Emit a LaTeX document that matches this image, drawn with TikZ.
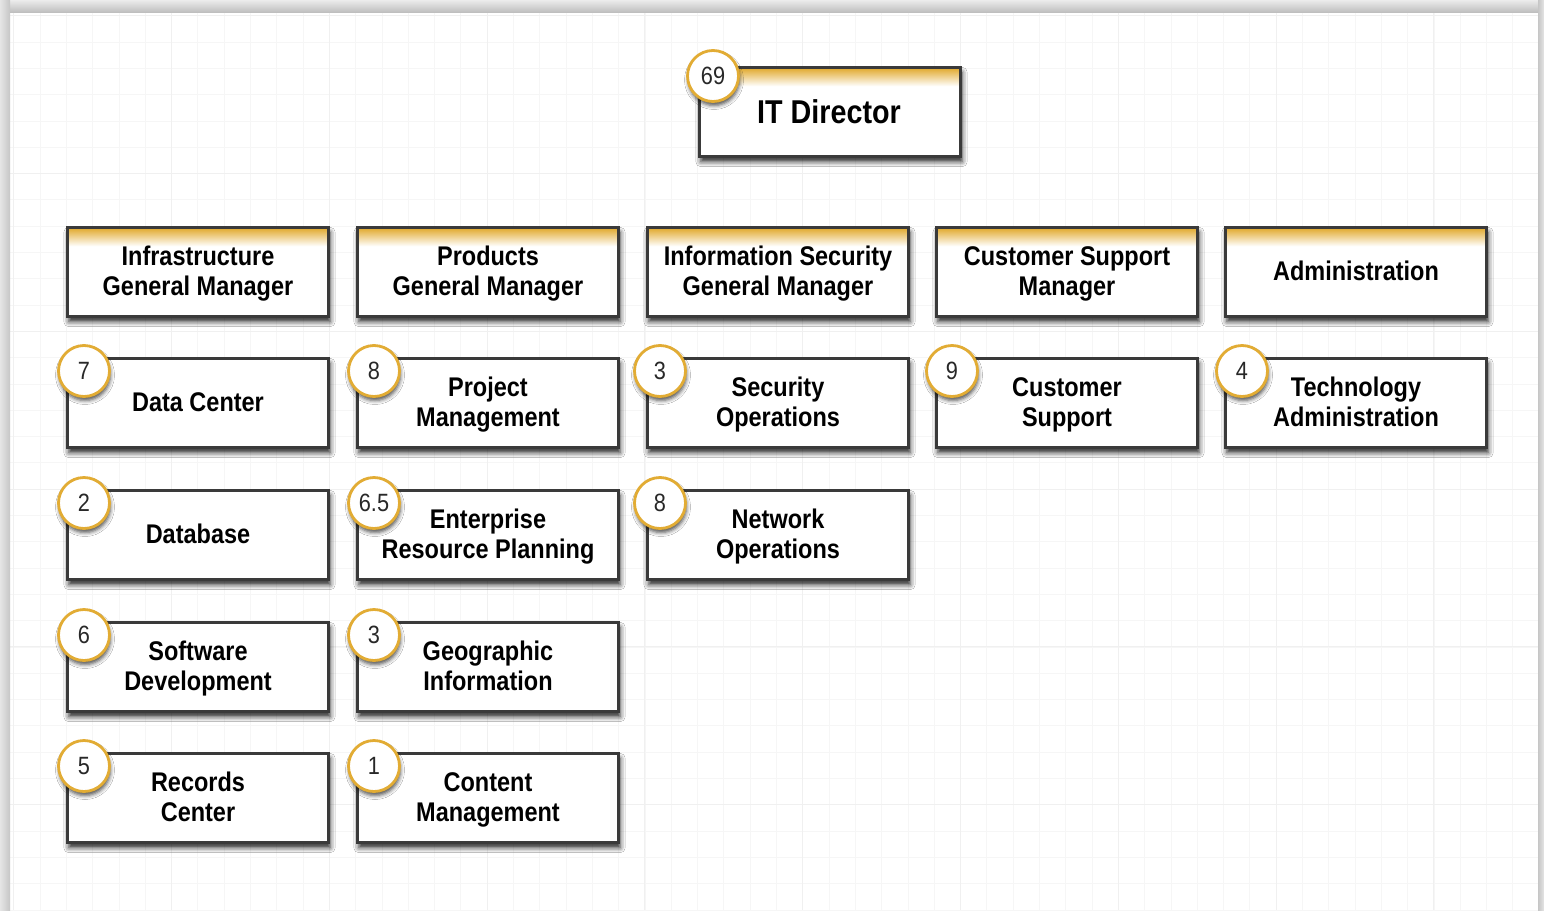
\documentclass[tikz,border=0pt]{standalone}
\usepackage{fontspec}
\setmainfont{Liberation Sans}[FakeStretch=0.87]
\usetikzlibrary{shadows.blur}
\definecolor{gold}{RGB}{226,172,52}
\definecolor{boxline}{RGB}{58,58,58}
\definecolor{numtxt}{RGB}{40,40,40}
\newcommand{\tline}[1]{\rule[-2.6pt]{0pt}{22pt}\smash{#1}}
\tikzset{
  unitbox/.style={draw=boxline, line width=2.6pt, fill=white, minimum width=261.4pt, minimum height=89.4pt,
    anchor=north west, inner sep=0pt, outer sep=0pt,
    blur shadow={shadow xshift=1.5pt, shadow yshift=-5pt, shadow blur radius=5pt, shadow opacity=85}},
  unittext/.style={align=center, inner sep=0pt, anchor=center,
    font=\fontsize{27}{29.5}\selectfont\bfseries},
  badge/.style={circle, draw=gold, line width=2.8pt, fill=white, minimum size=51pt, inner sep=0pt,
    font=\fontsize{25}{25}\selectfont, text=numtxt,
    blur shadow={shadow xshift=1pt, shadow yshift=-4pt, shadow blur radius=4pt, shadow opacity=70}},
}
% name, x, y, text
\newcommand{\unit}[4]{%
  \node[unitbox] (#1) at (#2+1.3,#3+1.3) {};
  \node[unittext] (#1-t) at (#1.center) {#4};
}
\newcommand{\hunit}[4]{%
  \node[unitbox] (#1) at (#2+1.3,#3+1.3) {};
  \shade[top color=gold, middle color=gold!60, bottom color=white] ([xshift=1.3pt,yshift=-1.3pt]#1.north west) rectangle ([xshift=-1.3pt,yshift=-19pt]#1.north east);
  \draw[boxline, line width=2.6pt] (#1.north west) rectangle (#1.south east);
  \node[unittext] (#1-t) at (#1.center) {#4};
}
\begin{document}
\begin{tikzpicture}[x=1pt,y=-1pt]
\useasboundingbox (0,0) rectangle (1544,910);
\fill[white] (0,0) rectangle (1544,910);
% grid
\foreach \i in {0,...,58} {
  \pgfmathsetmacro{\xx}{13.7+26.3*\i}
  \draw[gray!7, line width=0.8pt] (\xx,0) -- (\xx,910);
}
\foreach \i in {0,...,35} {
  \pgfmathsetmacro{\yy}{15.7+26.3*\i}
  \draw[gray!7, line width=0.8pt] (0,\yy) -- (1544,\yy);
}
\foreach \i in {0,6,...,54} {
  \pgfmathsetmacro{\xx}{13.7+26.3*\i}
  \draw[gray!12, line width=0.9pt] (\xx,0) -- (\xx,910);
}
\foreach \i in {0,6,...,30} {
  \pgfmathsetmacro{\yy}{15.7+26.3*\i}
  \draw[gray!12, line width=0.9pt] (0,\yy) -- (1544,\yy);
}
% frame
\shade[top color=gray!15, bottom color=gray!50] (0,0) rectangle (1544,12);
\shade[left color=gray!20, right color=gray!45] (0,0) rectangle (10,910);
\shade[left color=gray!45, right color=gray!20] (1538,0) rectangle (1544,910);

% IT Director
\node[unitbox] (dir) at (699.3,67.3) {};
\shade[top color=gold, middle color=gold!60, bottom color=white] ([xshift=1.3pt,yshift=-1.3pt]dir.north west) rectangle ([xshift=-1.3pt,yshift=-19pt]dir.north east);
\draw[boxline, line width=2.6pt] (dir.north west) rectangle (dir.south east);
\node[unittext, font=\fontsize{33}{36}\selectfont\bfseries] (dir-t) at ([xshift=-1pt]dir.center) {\rule[-0.5pt]{0pt}{24.5pt}\smash{IT Director}};

% headers
\hunit{h1}{66}{226}{\tline{Infrastructure}\\\tline{General Manager}}
\hunit{h2}{356}{226}{\tline{Products}\\\tline{General Manager}}
\hunit{h3}{646}{226}{\tline{Information Security}\\\tline{General Manager}}
\hunit{h4}{935}{226}{\tline{Customer Support}\\\tline{Manager}}
\hunit{h5}{1224}{226}{\tline{Administration}}

% row 2
\unit{dc}{66}{357}{\tline{Data Center}}
\unit{pm}{356}{357}{\tline{Project}\\\tline{Management}}
\unit{so}{646}{357}{\tline{Security}\\\tline{Operations}}
\unit{cs}{935}{357}{\tline{Customer}\\\tline{Support}}
\unit{ta}{1224}{357}{\tline{Technology}\\\tline{Administration}}
% row 3
\unit{db}{66}{489}{\tline{Database}}
\unit{erp}{356}{489}{\tline{Enterprise}\\\tline{Resource Planning}}
\unit{no}{646}{489}{\tline{Network}\\\tline{Operations}}
% row 4
\unit{sd}{66}{621}{\tline{Software}\\\tline{Development}}
\unit{gi}{356}{621}{\tline{Geographic}\\\tline{Information}}
% row 5
\unit{rc}{66}{752}{\tline{Records}\\\tline{Center}}
\unit{cm}{356}{752}{\tline{Content}\\\tline{Management}}

% badges
\node[badge] (bdir) at (713,76) {69};
\node[badge] (bdc) at (84,371) {7};
\node[badge] (bpm) at (374,371) {8};
\node[badge] (bso) at (660,371) {3};
\node[badge] (bcs) at (952,371) {9};
\node[badge] (bta) at (1242,371) {4};
\node[badge] (bdb) at (84,503) {2};
\node[badge] (berp) at (374,503) {6.5};
\node[badge] (bno) at (660,503) {8};
\node[badge] (bsd) at (84,635) {6};
\node[badge] (bgi) at (374,635) {3};
\node[badge] (brc) at (84,766) {5};
\node[badge] (bcm) at (374,766) {1};
\end{tikzpicture}
\end{document}
